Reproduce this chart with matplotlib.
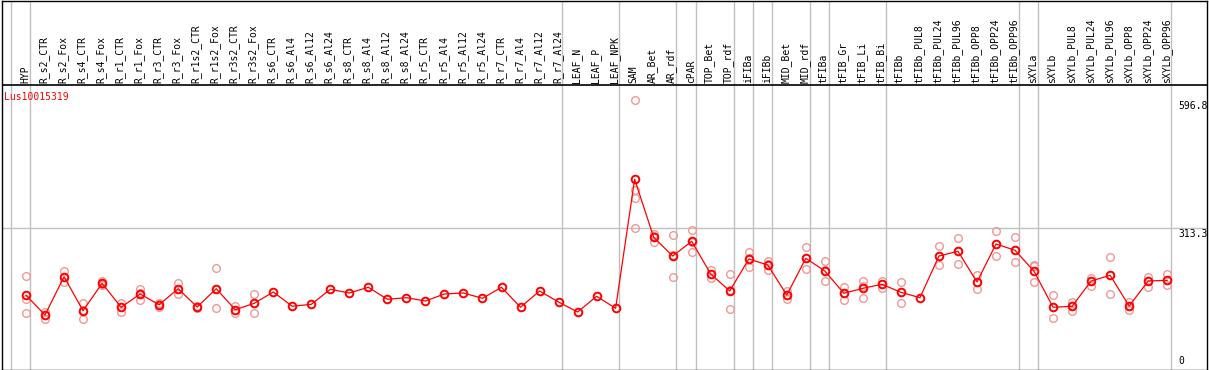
import matplotlib
matplotlib.use("Agg")
import matplotlib.pyplot as plt
from matplotlib import transforms

gene = "Lus10015319"

samples = ["HYP", "R_s2_CTR", "R_s2_Fox", "R_s4_CTR", "R_s4_Fox", "R_r1_CTR", "R_r1_Fox",
           "R_r3_CTR", "R_r3_Fox", "R_r1s2_CTR", "R_r1s2_Fox", "R_r3s2_CTR", "R_r3s2_Fox",
           "R_s6_CTR", "R_s6_Al4", "R_s6_Al12", "R_s6_Al24", "R_s8_CTR", "R_s8_Al4",
           "R_s8_Al12", "R_s8_Al24", "R_r5_CTR", "R_r5_Al4", "R_r5_Al12", "R_r5_Al24",
           "R_r7_CTR", "R_r7_Al4", "R_r7_Al12", "R_r7_Al24", "LEAF_N", "LEAF_P", "LEAF_NPK",
           "SAM", "AR_Bet", "AR_rdf", "cPAR", "TOP_Bet", "TOP_rdf", "iFIBa", "iFIBb",
           "MID_Bet", "MID_rdf", "tFIBa", "tFIB_Gr", "tFIB_Li", "tFIB_Bi", "tFIBb",
           "tFIBb_PUL8", "tFIBb_PUL24", "tFIBb_PUL96", "tFIBb_OPP8", "tFIBb_OPP24",
           "tFIBb_OPP96", "sXYLa", "sXYLb", "sXYLb_PUL8", "sXYLb_PUL24", "sXYLb_PUL96",
           "sXYLb_OPP8", "sXYLb_OPP24", "sXYLb_OPP96"]

means = [164.1, 120.4, 205.3, 129.9, 190.7, 137.5, 167.0, 143.2, 178.7, 138.1, 178.7,
         132.2, 146.3, 171.4, 139.7, 144.1, 177.4, 169.2, 181.8, 155.2, 158.8, 151.4,
         167.0, 169.2, 157.4, 181.8, 137.5, 173.6, 149.2, 127.0, 161.9, 135.3,
         421.3, 292.7, 251.2, 283.8, 211.3, 173.6, 244.6, 231.3, 164.7, 246.1, 218.0,
         168.5, 179.6, 188.5, 170.7, 158.8, 251.2, 261.6, 193.6, 277.8, 263.9, 217.3,
         137.5, 139.7, 195.8, 208.4, 140.4, 195.8, 197.3]

replicates = [
    [206.9, 155.2, 125.5], [127.7, 120.4, 111.5], [218.0, 204.7, 194.2],
    [146.3, 131.9, 111.5], [195.8, 188.5, 187.6], [147.7, 138.1, 127.0],
    [178.0, 169.2, 153.7], [146.3, 144.8, 138.8], [192.0, 177.2, 167.0],
    [136.0, 138.1, 140.0], [223.9, 177.2, 135.3], [140.4, 131.9, 124.2],
    [167.0, 146.3, 125.5],
    [], [], [], [], [], [], [], [], [], [], [], [], [], [], [], [], [], [], [],
    [596.8, 397.6, 379.2, 312.6], [300.0, 296.2, 281.6], [297.1, 252.5, 204.0],
    [308.9, 283.1, 259.4], [220.2, 211.3, 201.8], [211.3, 176.5, 133.0],
    [259.4, 246.8, 227.5], [240.8, 232.8, 220.2], [174.3, 164.1, 155.9],
    [270.5, 246.1, 221.7], [239.5, 219.3, 195.1], [181.8, 169.8, 153.7],
    [195.8, 184.7, 158.8], [195.8, 189.1, 179.6], [193.6, 170.7, 147.7],
    [],
    [273.4, 251.2, 230.6], [290.5, 261.6, 233.5], [209.1, 193.6, 177.4],
    [306.0, 277.8, 250.6], [292.7, 263.9, 237.3], [232.0, 229.0, 193.6],
    [164.7, 137.5, 113.7], [149.9, 139.7, 128.6], [203.1, 195.8, 185.4],
    [248.3, 209.0, 167.0], [149.2, 140.4, 132.2], [204.7, 195.8, 183.1],
    [211.3, 197.3, 186.2]]

# group boundaries (separator drawn after these sample indices)
group_ends = [-1, 0, 28, 31, 34, 35, 37, 38, 39, 41, 42, 45, 52, 53, 60]
ref_values = [596.8, 313.3, 0]

W, H = 1209, 370
fig = plt.figure(figsize=(W / 100, H / 100), dpi=100)
ax = fig.add_axes([2 / W, 0.5 / H, 1205 / W, 369 / H])

px_per_unit = 0.451
step = 19.02
ax.set_xlim((2 - 26) / step, (1207 - 26) / step)
ax.set_ylim((369.3 - 369.5) / px_per_unit, (369.3 - 0.5) / px_per_unit)
header_y = (369.3 - 85) / px_per_unit

for s in ax.spines.values():
    s.set_linewidth(1.0)
    s.set_color("black")
ax.set_xticks([])
ax.set_yticks([])

mono = "DejaVu Sans Mono"
grey = "#c0c0c0"

for g in group_ends:
    ax.axvline(g + 0.2, color=grey, lw=1.0, zorder=1)
ax.axhline(313.3, color=grey, lw=1.0, zorder=1)
ax.axhline(header_y, color="black", lw=1.2, zorder=2)

xs = list(range(len(samples)))
for i, reps in enumerate(replicates):
    if reps:
        ax.plot([i] * len(reps), reps, "o", ms=5.5, mfc="none", mec="#f09898",
                mew=1.0, zorder=3)

ax.plot(xs, means, "-", color="red", lw=0.9, zorder=4)
ax.plot(xs, means, "o", ms=5.5, mfc="none", mec="red", mew=1.4, zorder=5)

for i, name in enumerate(samples):
    off = transforms.offset_copy(ax.transData, fig=fig, x=-1, y=2, units="dots")
    ax.text(i, header_y, name, rotation=90, ha="center", va="bottom",
            family=mono, fontsize=7, transform=off)

title_tr = transforms.offset_copy(ax.transData, fig=fig, x=0, y=-7, units="dots")
ax.text((4 - 26) / step, header_y, gene, color="red", family=mono, fontsize=7,
        ha="left", va="top", transform=title_tr)

lab_x = (1178 - 26) / step
for v in ref_values:
    if v == 0:
        tr = transforms.offset_copy(ax.transData, fig=fig, x=0, y=3, units="dots")
        ax.text(lab_x, v, "0", family=mono, fontsize=7, ha="left", va="bottom", transform=tr)
    else:
        tr = transforms.offset_copy(ax.transData, fig=fig, x=0, y=-1, units="dots")
        ax.text(lab_x, v, f"{v:.1f}", family=mono, fontsize=7, ha="left", va="top", transform=tr)

fig.savefig("out.png", dpi=100)
